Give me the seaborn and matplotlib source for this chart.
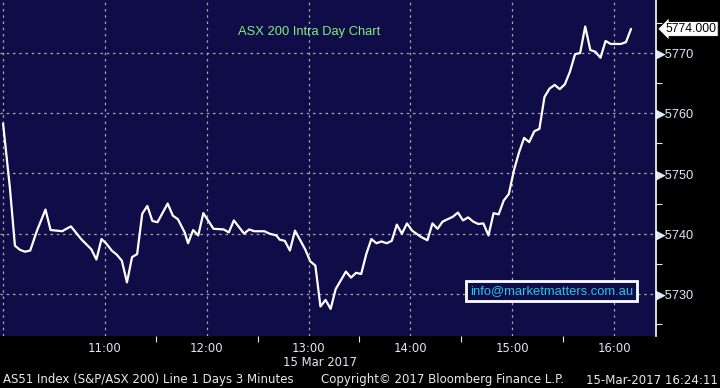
import matplotlib
matplotlib.use('Agg')
import matplotlib.pyplot as plt
import matplotlib.dates as mdates
import seaborn as sns
import pandas as pd

# AS51 intraday, 15 Mar 2017
times = ['10:00', '10:04', '10:07', '10:10', '10:13', '10:16', '10:20', '10:25', '10:28', '10:35',
         '10:36', '10:40', '10:46', '10:52', '10:55', '10:58', '11:01', '11:04', '11:07', '11:10',
         '11:13', '11:16', '11:19', '11:22', '11:25', '11:28', '11:31', '11:37', '11:40', '11:43',
         '11:47', '11:49', '11:52', '11:55', '11:58', '12:04', '12:10', '12:13', '12:16', '12:22',
         '12:25', '12:28', '12:34', '12:37', '12:41', '12:43', '12:46', '12:49', '12:52', '12:58',
         '13:01', '13:04', '13:07', '13:10', '13:13', '13:16', '13:22', '13:25', '13:28', '13:31',
         '13:34', '13:37', '13:40', '13:43', '13:46', '13:49', '13:52', '13:55', '13:58', '14:01',
         '14:06', '14:10', '14:13', '14:16', '14:19', '14:22', '14:25', '14:28', '14:31', '14:34',
         '14:37', '14:40', '14:43', '14:46', '14:49', '14:52', '14:55', '14:58', '15:01', '15:04',
         '15:07', '15:10', '15:13', '15:16', '15:19', '15:22', '15:25', '15:28', '15:31', '15:34',
         '15:37', '15:40', '15:43', '15:46', '15:49', '15:52', '15:55', '15:58', '16:04', '16:07',
         '16:10']
prices = [5758.3, 5747.7, 5738.0, 5737.3, 5737.0, 5737.2, 5740.5, 5744.0, 5740.6, 5740.4,
          5740.6, 5741.2, 5739.1, 5737.4, 5735.7, 5739.1, 5738.3, 5737.2, 5736.5, 5735.5,
          5731.9, 5736.1, 5736.6, 5743.3, 5744.6, 5742.1, 5741.9, 5745.0, 5743.0, 5742.4,
          5740.2, 5738.4, 5740.6, 5739.7, 5743.4, 5740.8, 5740.7, 5740.2, 5742.2, 5740.0,
          5740.7, 5740.4, 5740.4, 5740.0, 5739.7, 5739.0, 5738.8, 5737.2, 5740.5, 5737.4,
          5735.4, 5734.7, 5727.9, 5729.0, 5727.5, 5730.8, 5733.7, 5732.7, 5733.5, 5733.3,
          5736.6, 5739.1, 5738.4, 5738.7, 5738.4, 5738.8, 5741.5, 5740.0, 5741.7, 5740.5,
          5739.5, 5738.9, 5741.7, 5740.8, 5742.0, 5742.4, 5742.8, 5743.5, 5742.2, 5742.7,
          5742.0, 5741.6, 5741.7, 5739.7, 5743.4, 5743.2, 5745.5, 5746.6, 5750.5, 5753.5,
          5755.9, 5755.2, 5757.0, 5757.4, 5762.7, 5764.1, 5764.7, 5764.0, 5764.8, 5766.9,
          5769.8, 5770.0, 5774.4, 5770.5, 5770.2, 5769.2, 5772.0, 5771.5, 5771.5, 5771.8,
          5774.0]

last_label = '5774.000'
y_major = [5730, 5740, 5750, 5760, 5770]
y_minor = [5725, 5735, 5745, 5755, 5765, 5775]
hour_ticks = ['10:00', '11:00', '12:00', '13:00', '14:00', '15:00', '16:00']
half_ticks = ['11:30', '12:30', '13:30', '14:30', '15:30']

day = '2017-03-15 '
df = pd.DataFrame({'time': pd.to_datetime([day + t for t in times]), 'price': prices})

navy = '#100c48'
grid_col = '#a8a8a0'
lab_col = '#dfe8f8'
arial = ['Liberation Sans', 'DejaVu Sans']

sns.set_style('dark')
plt.rcParams['font.family'] = ['DejaVu Sans']

fig = plt.figure(figsize=(7.2, 3.88), dpi=100, facecolor='black')
ax = fig.add_axes([0, 0.134, 0.9111, 0.866])
ax.set_facecolor(navy)

sns.lineplot(data=df, x='time', y='price', color='white', linewidth=1.6, ax=ax)

ax.set_xlim(pd.Timestamp(day + '09:58:12'), pd.Timestamp(day + '16:24:42'))
ax.set_ylim(5723, 5778.8)

# x axis: hour labels, small ticks on the half hours
ax.set_xticks(pd.to_datetime([day + t for t in hour_ticks]))
ax.set_xticks(pd.to_datetime([day + t for t in half_ticks]), minor=True)
ax.xaxis.set_major_formatter(mdates.DateFormatter('%H:%M'))
ax.set_xticklabels(['' if t == '10:00' else t for t in hour_ticks])
ax.tick_params(axis='x', which='major', colors=lab_col, labelsize=8.4, length=0, pad=4, bottom=True)
ax.tick_params(axis='x', which='minor', colors=lab_col, length=4, width=0.8, direction='out', bottom=True)

# y axis on the right
ax.yaxis.tick_right()
ax.set_yticks(y_major)
ax.set_yticks(y_minor, minor=True)
ax.set_yticklabels(['\u25b6' + str(v) for v in y_major])
for lab in ax.get_yticklabels():
    lab.set_family(arial)
ax.tick_params(axis='y', which='major', colors=lab_col, labelsize=9.2, length=0, pad=0, right=True)
ax.tick_params(axis='y', which='minor', colors=lab_col, length=4, width=0.8, right=True)

ax.grid(True, which='major', color=grid_col, linestyle=(0, (2, 3)), linewidth=0.9)
for s in ['top', 'left', 'bottom']:
    ax.spines[s].set_visible(False)
ax.spines['right'].set_visible(True)
ax.spines['right'].set_color('white')
ax.spines['right'].set_linewidth(1.2)
ax.set_xlabel('')
ax.set_ylabel('')

# last price tag
ax.annotate(last_label, xy=(1.0, prices[-1]), xycoords=('axes fraction', 'data'),
            xytext=(7, 0), textcoords='offset points', ha='left', va='center',
            fontsize=8.8, color='black', family=arial, annotation_clip=False,
            bbox=dict(boxstyle='larrow,pad=0.12', facecolor='white', edgecolor='black', linewidth=0.6))

ax.text(0.471, 0.905, 'ASX 200 Intra Day Chart', transform=ax.transAxes, ha='center', va='center',
        color='#7cf07c', fontsize=9.3, family=arial)

ax.text(0.841, 0.135, 'info@marketmatters.com.au', transform=ax.transAxes, ha='center', va='center',
        color='#22c8e8', fontsize=9.4, family=arial,
        bbox=dict(boxstyle='square,pad=0.3', facecolor=navy, edgecolor='white', linewidth=2))

fig.text(357 / 720, 1 - 362 / 388, '15 Mar 2017', ha='right', va='center', color=lab_col, fontsize=8.4)
fig.text(3 / 720, 1 - 380 / 388, 'AS51 Index (S&P/ASX 200) Line 1 Days 3 Minutes', ha='left', va='center',
         color='#e8e8e8', fontsize=8.5)
fig.text(321 / 720, 1 - 380 / 388, 'Copyright\u00a9 2017 Bloomberg Finance L.P.', ha='left', va='center',
         color='#e8e8e8', fontsize=8.5)
fig.text(718 / 720, 1 - 380 / 388, '15-Mar-2017 16:24:11', ha='right', va='center',
         color='#e8e8e8', fontsize=8.5)

fig.savefig('out.png', dpi=100, facecolor='black')
plt.close(fig)
